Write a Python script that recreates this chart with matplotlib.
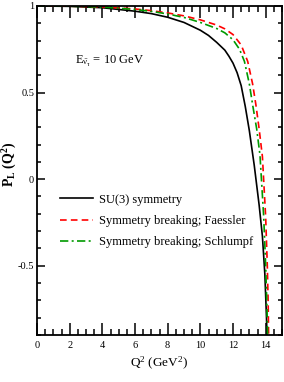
import numpy as np
import matplotlib
matplotlib.use('Agg')
import matplotlib.pyplot as plt
from matplotlib.ticker import MultipleLocator

plt.rcParams['font.family'] = ['Liberation Serif', 'DejaVu Serif']
plt.rcParams['mathtext.fontset'] = 'stix'
plt.rcParams['mathtext.default'] = 'regular'

# Q^2 (GeV^2) and P_L values
q2_su3 = [0, 2, 4, 6, 7, 8, 9, 10, 10.5, 11, 11.5, 11.75, 12, 12.25, 12.5, 12.75, 13, 13.3, 13.6, 13.8, 13.95, 14.05, 14.08]
pl_su3 = [1.0, 0.998, 0.99, 0.97, 0.956, 0.935, 0.905, 0.86, 0.83, 0.79, 0.745, 0.71, 0.67, 0.615, 0.54, 0.42, 0.28, 0.08, -0.15, -0.33, -0.55, -0.8, -0.9]

q2_faessler = [0, 2, 4, 6, 7, 8, 9, 10, 11, 11.5, 12, 12.5, 12.9, 13.2, 13.4, 13.6, 13.8, 14.0, 14.1, 14.15, 14.18]
pl_faessler = [1.0, 0.999, 0.995, 0.983, 0.973, 0.96, 0.943, 0.92, 0.89, 0.868, 0.835, 0.775, 0.68, 0.55, 0.43, 0.29, 0.13, -0.22, -0.5, -0.7, -0.9]

q2_schlumpf = [0, 2, 4, 6, 7, 8, 9, 10, 11, 11.5, 12, 12.4, 12.7, 13.0, 13.2, 13.45, 13.65, 13.88, 14.0, 14.08, 14.12]
pl_schlumpf = [1.0, 0.999, 0.994, 0.98, 0.969, 0.954, 0.934, 0.905, 0.87, 0.845, 0.805, 0.75, 0.68, 0.55, 0.43, 0.29, 0.14, -0.22, -0.5, -0.75, -0.9]

labels = ['SU(3) symmetry', 'Symmetry breaking; Faessler', 'Symmetry breaking; Schlumpf']

fig = plt.figure(figsize=(2.84, 3.82), dpi=100)
ax = fig.add_axes([0.1303, 0.123, 0.8627, 0.8613])

ax.plot(q2_su3, pl_su3, color='black', lw=1.2, label=labels[0])
ax.plot(q2_faessler, pl_faessler, color='#ff0000', lw=1.2, ls=(0, (4, 2.5)), label=labels[1])
ax.plot(q2_schlumpf, pl_schlumpf, color='#009900', lw=1.2, ls=(0, (5, 2, 1.2, 2)), label=labels[2])

ax.set_xlim(0, 15)
ax.set_ylim(-0.9, 1)
ax.xaxis.set_major_locator(MultipleLocator(2))
ax.xaxis.set_minor_locator(MultipleLocator(0.5))
ax.yaxis.set_minor_locator(MultipleLocator(0.1))
ax.set_yticks([-0.5, 0, 0.5, 1])
ax.set_yticklabels(['-0.5', '0', '0.5', '1'])

ax.tick_params(which='both', direction='in', top=True, right=True, labelsize=7.5, width=1.1)
ax.tick_params(axis='x', which='major', length=8.5, pad=4)
ax.tick_params(axis='x', which='minor', length=4.5)
ax.tick_params(axis='y', which='major', length=5.5, pad=2)
ax.tick_params(axis='y', which='minor', length=2.8)
for s in ax.spines.values():
    s.set_linewidth(1.3)

ax.set_xlabel('Q$^2$ (GeV$^2$)', fontsize=9.5, labelpad=4)
ax.set_ylabel('P$_{L}$ (Q$^2$)', fontsize=10, fontweight='bold')
ax.yaxis.set_label_coords(-0.075, 0.52)

ax.text(2.3, 0.68, r'E$_{\bar{\nu}_\tau}$ = 10 GeV', fontsize=9, va='center', ha='left')

ax.legend(loc='upper left', bbox_to_anchor=(0.075, 0.445), frameon=False, fontsize=9,
          handlelength=2.6, handletextpad=0.5, labelspacing=0.75, borderaxespad=0)

fig.savefig('out.png', dpi=100)
